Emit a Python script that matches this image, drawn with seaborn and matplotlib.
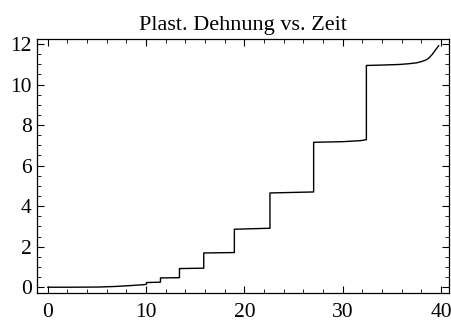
import matplotlib
matplotlib.use("Agg")
import matplotlib.pyplot as plt
from matplotlib.ticker import MultipleLocator
import pandas as pd
import seaborn as sns

# Plastic strain over time (step-wise accumulation)
zeit = [0.0, 2.0, 4.0, 5.3, 7.0, 8.4, 9.9, 10.05,
        10.05, 11.47,
        11.47, 13.4,
        13.4, 15.87,
        15.87, 18.98,
        18.98, 22.6,
        22.6, 27.04,
        27.04, 30.0, 31.8, 32.4,
        32.4, 34.0, 35.8, 36.8, 37.5, 38.0, 38.5, 38.8, 39.1, 39.4, 39.76]
dehnung = [0.0, 0.0, 0.005, 0.01, 0.04, 0.08, 0.13, 0.16,
           0.23, 0.25,
           0.46, 0.47,
           0.92, 0.94,
           1.69, 1.71,
           2.86, 2.91,
           4.65, 4.70,
           7.15, 7.18, 7.23, 7.28,
           10.94, 10.96, 10.99, 11.03, 11.07, 11.13, 11.22, 11.33, 11.49, 11.69, 11.92]

titel = "Plast. Dehnung vs. Zeit"
x_ticks = [0, 10, 20, 30, 40]
y_ticks = [0, 2, 4, 6, 8, 10, 12]

sns.set_style("white")
plt.rcParams["font.family"] = ["Liberation Serif", "DejaVu Serif"]

df = pd.DataFrame({"Zeit": zeit, "Dehnung": dehnung})

fig = plt.figure(figsize=(4.51, 3.29), dpi=100)
ax = fig.add_axes([0.0827, 0.1085, 0.9956 - 0.0827, 0.8805 - 0.1085])

sns.lineplot(data=df, x="Zeit", y="Dehnung", sort=False, estimator=None,
             color="black", linewidth=1.0, ax=ax)

ax.set_xlim(-1.05, 40.8)
ax.set_ylim(-0.3, 12.23)
ax.set_xticks(x_ticks)
ax.set_yticks(y_ticks)
ax.xaxis.set_minor_locator(MultipleLocator(2))
ax.yaxis.set_minor_locator(MultipleLocator(0.5))
ax.tick_params(which="both", direction="in", top=True, right=True,
               bottom=True, left=True, colors="black", labelsize=15.5)
ax.tick_params(which="major", length=5, width=0.8)
ax.tick_params(which="minor", length=3, width=0.6)
ax.tick_params(axis="x", pad=7)
ax.tick_params(axis="y", pad=4)
for s in ax.spines.values():
    s.set_color("black")
    s.set_linewidth(0.9)
ax.set_xlabel("")
ax.set_ylabel("")
ax.set_title(titel, fontsize=16, pad=7, color="black")

fig.savefig("out.png", dpi=100)
